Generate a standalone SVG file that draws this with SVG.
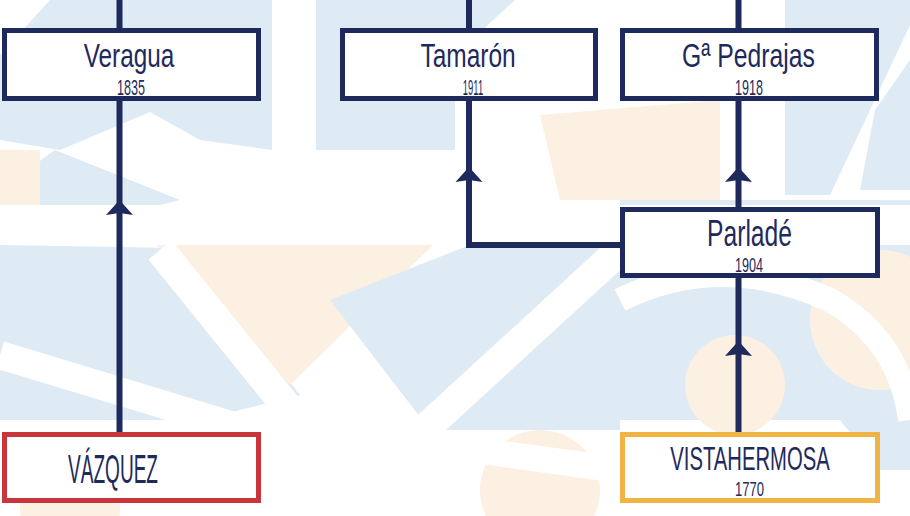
<svg xmlns="http://www.w3.org/2000/svg" width="910" height="516" viewBox="0 0 910 516">
  <style>
    .bg-b { fill: #deeaf4; }
    .bg-p { fill: #fcf0e2; }
    .band { stroke: #ffffff; fill: none; stroke-linecap: butt; }
    .box { fill: #ffffff; stroke: #1f2a5c; stroke-width: 5; }
    .box.red { stroke: #c8363c; }
    .box.gold { stroke: #efb443; }
    .conn { stroke: #1f2a5c; stroke-width: 6; fill: none; }
    .arrow { fill: #1f2a5c; }
    .name { font-family: "Liberation Sans", "DejaVu Sans", sans-serif; fill: #1f2a5c; text-anchor: middle; }
  </style>
  <defs>
    <path id="arrowhead" d="M0,0 L13.5,15 L0,13 L-13.5,15 Z"/>
  </defs>

  <!-- background decoration -->
  <g id="background">
    <rect x="0" y="0" width="910" height="516" fill="#ffffff"/>
    <polygon class="bg-b" points="50,0 272,0 272,150 200,140 150,112 60,150 0,140 0,55"/>
    <polygon class="bg-b" points="316,0 515,0 455,55 455,150 316,150"/>
    <polygon class="bg-b" points="785,0 910,0 910,25 830,195 785,195"/>
    <polygon class="bg-b" points="875,110 910,60 910,190 860,190"/>
    <polygon class="bg-b" points="55,150 180,200 120,215 0,215 0,190"/>
    <polygon class="bg-p" points="0,150 40,150 40,215 0,215"/>
    <polygon class="bg-p" points="540,115 720,100 720,200 560,200"/>
    <polygon class="bg-b" points="0,245 180,248 300,395 200,420 0,420"/>
    <polygon class="bg-p" points="155,243 435,243 290,385"/>
    <polygon class="bg-b" points="330,300 470,245 620,225 620,430 430,430"/>
    <polygon class="bg-b" points="620,200 910,200 910,470 880,470 840,420 620,420"/>
    <circle class="bg-p" cx="880" cy="320" r="70"/>
    <circle class="bg-p" cx="735" cy="385" r="50"/>
    <circle class="bg-p" cx="540" cy="490" r="60"/>
    <circle class="bg-p" cx="70" cy="510" r="50"/>
    <line class="band" x1="160" y1="250" x2="330" y2="460" stroke-width="30"/>
    <line class="band" x1="0" y1="355" x2="280" y2="440" stroke-width="28"/>
    <line class="band" x1="620" y1="250" x2="330" y2="516" stroke-width="30"/>
    <line class="band" x1="330" y1="430" x2="620" y2="470" stroke-width="26"/>
    <line class="band" x1="0" y1="225" x2="910" y2="225" stroke-width="40"/>
    <path class="band" d="M620,300 Q720,250 830,300 Q900,340 910,420" stroke-width="24"/>
  </g>

  <!-- connectors -->
  <g id="connectors">
    <line class="conn" x1="119.5" y1="0" x2="119.5" y2="30"/>
    <line class="conn" x1="119.5" y1="100" x2="119.5" y2="434"/>
    <line class="conn" x1="469" y1="0" x2="469" y2="30"/>
    <polyline class="conn" points="469,100 469,245 622,245"/>
    <line class="conn" x1="738.5" y1="0" x2="738.5" y2="30"/>
    <line class="conn" x1="738.5" y1="100" x2="738.5" y2="209"/>
    <line class="conn" x1="738.5" y1="276" x2="738.5" y2="434"/>
    <use class="arrow" href="#arrowhead" x="119.5" y="200"/>
    <use class="arrow" href="#arrowhead" x="469" y="167"/>
    <use class="arrow" href="#arrowhead" x="738.5" y="167"/>
    <use class="arrow" href="#arrowhead" x="738.5" y="341"/>
  </g>

  <g id="veragua">
    <rect class="box" x="4.5" y="30.5" width="254" height="68"/>
    <text class="name" font-size="34" transform="translate(129 67) scale(0.716 1)">Veragua</text>
    <text class="name" font-size="22" transform="translate(131 94.5) scale(0.572 1)">1835</text>
  </g>

  <g id="tamaron">
    <rect class="box" x="342.5" y="30.5" width="253" height="68"/>
    <text class="name" font-size="34" transform="translate(468 67) scale(0.72 1)">Tamarón</text>
    <text class="name" font-size="22" transform="translate(473 94.5) scale(0.43 1)">1911</text>
  </g>

  <g id="pedrajas">
    <rect class="box" x="622.5" y="30.5" width="254" height="68"/>
    <text class="name" font-size="34" transform="translate(748.5 67) scale(0.728 1)">Gª Pedrajas</text>
    <text class="name" font-size="22" transform="translate(749 94.5) scale(0.572 1)">1918</text>
  </g>

  <g id="parlade">
    <rect class="box" x="622.5" y="209.5" width="255" height="66"/>
    <text class="name" font-size="36" transform="translate(749.5 246) scale(0.685 1)">Parladé</text>
    <text class="name" font-size="20" transform="translate(749 272) scale(0.63 1)">1904</text>
  </g>

  <g id="vazquez">
    <rect class="box red" x="4.5" y="434.5" width="254" height="66"/>
    <text class="name" font-size="41" transform="translate(113 483) scale(0.465 1)">VÁZQUEZ</text>
  </g>

  <g id="vistahermosa">
    <rect class="box gold" x="622.5" y="434.5" width="255" height="66"/>
    <text class="name" font-size="34" transform="translate(750 470) scale(0.596 1)">VISTAHERMOSA</text>
    <text class="name" font-size="20" transform="translate(749.5 496) scale(0.652 1)">1770</text>
  </g>
</svg>
